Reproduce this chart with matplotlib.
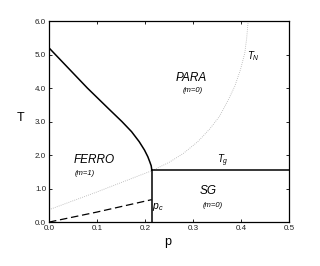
import matplotlib
matplotlib.use("Agg")
import matplotlib.pyplot as plt

plt.rcParams['font.family'] = ['Liberation Sans', 'DejaVu Sans']
plt.rcParams['mathtext.fontset'] = 'custom'
plt.rcParams['mathtext.it'] = 'Liberation Sans:italic'
plt.rcParams['mathtext.rm'] = 'Liberation Sans'

# Ferro/para boundary (solid curve)
ferro_T = [5.2, 4.6, 4.0, 3.4, 3.0, 2.7, 2.4, 2.15, 1.95, 1.8, 1.68, 1.58, 1.55]
ferro_p = [0.0, 0.04, 0.08, 0.123, 0.152, 0.172, 0.188, 0.199, 0.206, 0.210, 0.213, 0.214, 0.214]

# Nishimori line T_N (dotted)
tn_p = [0.0, 0.1, 0.19, 0.214, 0.25, 0.28, 0.31, 0.335, 0.355, 0.372, 0.387, 0.399, 0.408, 0.412, 0.415]
tn_T = [0.37, 0.9, 1.4, 1.53, 1.78, 2.05, 2.4, 2.78, 3.15, 3.6, 4.05, 4.55, 5.05, 5.5, 6.0]

# Lower dashed boundary
dash_p = [0.0, 0.1, 0.214]
dash_T = [0.0, 0.3, 0.67]

p_c = 0.214
T_g = 1.55

fig = plt.figure(figsize=(3.2, 2.66), dpi=100)
ax = fig.add_axes([0.153, 0.165, 0.75, 0.756])

ax.plot(ferro_p, ferro_T, color='black', lw=1.1)
ax.plot(tn_p, tn_T, color='#b0b0b0', lw=0.6, ls=(0, (1, 1.5)))
ax.plot(dash_p, dash_T, color='black', lw=0.9, ls=(0, (6, 3)))
ax.plot([p_c, p_c], [0, T_g], color='black', lw=1.1)
ax.plot([p_c, 0.5], [T_g, T_g], color='black', lw=1.1)

ax.set_xlim(0, 0.5)
ax.set_ylim(0, 6)
ax.set_xticks([0.0, 0.1, 0.2, 0.3, 0.4, 0.5])
ax.set_yticks([0.0, 1.0, 2.0, 3.0, 4.0, 5.0, 6.0])
ax.set_xticklabels(['0.0', '0.1', '0.2', '0.3', '0.4', '0.5'])
ax.set_yticklabels(['0.0', '1.0', '2.0', '3.0', '4.0', '5.0', '6.0'])
ax.tick_params(direction='in', top=True, right=True, length=2.5, width=0.6,
               labelsize=5.8, pad=2, colors='black', labelcolor='#222222')
for s in ax.spines.values():
    s.set_linewidth(0.9)

fig.text(21 / 320, 1 - 118 / 266, 'T', fontsize=9, ha='center', va='center')
fig.text(168 / 320, 1 - 242 / 266, 'p', fontsize=9, ha='center', va='center')

ax.text(0.094, 1.85, 'FERRO', fontsize=8.5, style='italic', ha='center', va='center')
ax.text(0.074, 1.44, '(m=1)', fontsize=5.5, style='italic', ha='center', va='center')
ax.text(0.296, 4.3, 'PARA', fontsize=8.5, style='italic', ha='center', va='center')
ax.text(0.30, 3.92, '(m=0)', fontsize=5.5, style='italic', ha='center', va='center')
ax.text(0.331, 0.92, 'SG', fontsize=8.5, style='italic', ha='center', va='center')
ax.text(0.342, 0.49, '(m=0)', fontsize=5.5, style='italic', ha='center', va='center')
ax.text(0.425, 4.94, r'$T_N$', fontsize=7, ha='center', va='center')
ax.text(0.363, 1.82, r'$T_g$', fontsize=7, ha='center', va='center')
ax.text(0.226, 0.45, r'$p_c$', fontsize=7.5, ha='center', va='center')

fig.savefig('out.png', dpi=100)
